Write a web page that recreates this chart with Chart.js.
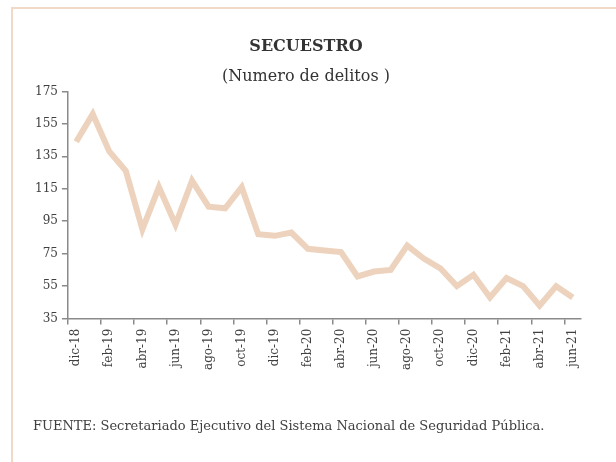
<!DOCTYPE html>
<html>
<head>
<meta charset="utf-8">
<script src="https://cdn.jsdelivr.net/npm/chart.js@4"></script>
<style>
  html, body { margin: 0; padding: 0; background: #fff; }
  #marco { position: absolute; left: 0; top: 0; width: 616px; height: 462px; }
  #borde { position: absolute; left: 11px; top: 7px; width: 620px; height: 470px;
           border-top: 2px solid #F0D9C7; border-left: 2px solid #F0D9C7; }
  #fuente { position: absolute; left: 33px; top: 418px; font-family: "DejaVu Serif", serif;
            font-size: 13px; color: #404040; }
</style>
</head>
<body>
<div id="marco">
  <div id="borde"></div>
  <canvas id="secuestroChart" width="616" height="462"></canvas>
  <div id="fuente">FUENTE: Secretariado Ejecutivo del Sistema Nacional de Seguridad Pública.</div>
</div>
<script>
// Meses (dic-18 a jun-21)
const meses = ["dic-18", "ene-19", "feb-19", "mar-19", "abr-19", "may-19", "jun-19", "jul-19",
  "ago-19", "sep-19", "oct-19", "nov-19", "dic-19", "ene-20", "feb-20", "mar-20", "abr-20",
  "may-20", "jun-20", "jul-20", "ago-20", "sep-20", "oct-20", "nov-20", "dic-20", "ene-21",
  "feb-21", "mar-21", "abr-21", "may-21", "jun-21"];

// Numero de delitos de secuestro
const delitos = [144, 161, 138, 126, 90, 116, 93, 120, 104, 103, 116, 87, 86, 88, 78, 77,
  76, 61, 64, 65, 80, 72, 66, 55, 62, 48, 60, 55, 43, 55, 48];

const yMin = 35;
const yMax = 175;
const yPaso = 20;

const fuenteTexto = "DejaVu Serif";
const gris = '#404040';
const ejeColor = '#8a8a8a';

const config = {
  type: 'line',
  data: {
    labels: meses,
    datasets: [{
      label: "Secuestro",
      data: delitos,
      borderColor: '#EDD3BD',
      borderWidth: 6,
      pointRadius: 0,
      tension: 0,
      fill: false
    }]
  },
  options: {
    responsive: false,
    animation: false,
    layout: { padding: { left: 31, right: 35, top: 22, bottom: 88 } },
    plugins: {
      legend: { display: false },
      tooltip: { enabled: false },
      title: {
        display: true,
        text: 'SECUESTRO',
        color: '#333',
        font: { family: fuenteTexto, size: 16, weight: 'bold' },
        padding: { top: 15, bottom: 5 }
      },
      subtitle: {
        display: true,
        text: '(Numero de delitos )',
        color: '#333',
        font: { family: fuenteTexto, size: 16 },
        padding: { top: 6, bottom: 5 }
      }
    },
    scales: {
      x: {
        offset: true,
        grid: {
          offset: true,
          drawOnChartArea: false,
          tickLength: 6,
          lineWidth: 1.5,
          color: (ctx) => (ctx.index % 2 === 0 ? ejeColor : 'rgba(0,0,0,0)')
        },
        border: { display: true, color: ejeColor, width: 1.5 },
        ticks: {
          autoSkip: false,
          maxRotation: 90,
          minRotation: 90,
          color: gris,
          padding: 4,
          font: { family: fuenteTexto, size: 12 },
          callback: function (value, index) {
            return index % 2 === 0 ? this.getLabelForValue(value) : '';
          }
        }
      },
      y: {
        min: yMin,
        max: yMax,
        grid: { drawOnChartArea: false, tickLength: 6, lineWidth: 1.5, color: ejeColor },
        border: { display: true, color: ejeColor, width: 1.5 },
        ticks: {
          stepSize: yPaso,
          color: gris,
          padding: 4,
          font: { family: fuenteTexto, size: 12 }
        }
      }
    }
  }
};

window.onload = function () {
  const ctx = document.getElementById('secuestroChart').getContext('2d');
  new Chart(ctx, config);
};
</script>
</body>
</html>
